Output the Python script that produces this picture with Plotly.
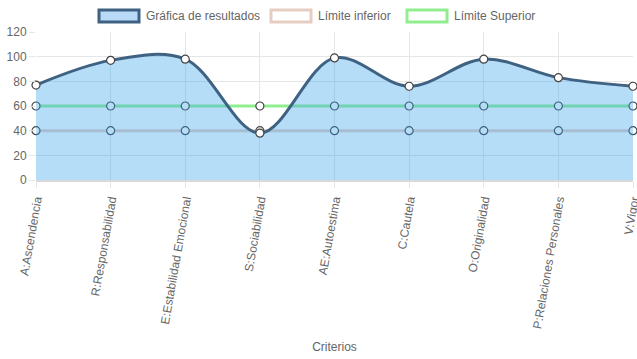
import plotly.graph_objects as go

categories = ["A:Ascendencia", "R:Responsabilidad", "E:Estabilidad Emocional",
              "S:Sociabilidad", "AE:Autoestima", "C:Cautela", "O:Originalidad",
              "P:Relaciones Personales", "V:Vigor"]
resultados = [77, 97, 98, 38, 99, 76, 98, 83, 76]
limite_inferior = [40, 40, 40, 40, 40, 40, 40, 40, 40]
limite_superior = [60, 60, 60, 60, 60, 60, 60, 60, 60]
y_ticks = [0, 20, 40, 60, 80, 100, 120]

FONT = "Liberation Sans, Arial, Helvetica, sans-serif"
marker = dict(size=8, color="white", line=dict(color="#444", width=1.2))

C_RES_LINE = "#3f6282"
C_RES_FILL = "rgba(54,162,235,0.36)"
C_INF = "rgb(230,205,196)"
C_SUP = "rgb(144,238,144)"

W, H = 637, 359
ML, MR, MT, MB = 36, 4, 32, 179
PW, PH = W - ML - MR, H - MT - MB

def px_x(px):
    return (px - ML) / PW

def px_y(py):
    return (H - MB - py) / PH

fig = go.Figure()

fig.add_trace(go.Scatter(
    x=categories, y=limite_inferior, name="Límite inferior",
    mode="lines+markers", line=dict(color=C_INF, width=3),
    marker=marker, cliponaxis=False, showlegend=False))

fig.add_trace(go.Scatter(
    x=categories, y=limite_superior, name="Límite Superior",
    mode="lines+markers", line=dict(color=C_SUP, width=3),
    marker=marker, cliponaxis=False, showlegend=False))

fig.add_trace(go.Scatter(
    x=categories, y=resultados, name="Gráfica de resultados",
    mode="lines+markers", line=dict(color=C_RES_LINE, width=3, shape="spline", smoothing=1.0),
    fill="tozeroy", fillcolor=C_RES_FILL,
    marker=marker, cliponaxis=False, showlegend=False))

# Chart.js-style legend: boxes + labels
legend_items = [("Gráfica de resultados", C_RES_LINE, "rgb(185,218,247)", 99),
                ("Límite inferior", C_INF, "white", 271),
                ("Límite Superior", C_SUP, "white", 407)]
shapes = []
annotations = []
for name, lc, fc, x0 in legend_items:
    shapes.append(dict(type="rect", xref="paper", yref="paper",
                       x0=px_x(x0), x1=px_x(x0 + 40), y0=px_y(22), y1=px_y(10),
                       line=dict(color=lc, width=3), fillcolor=fc, layer="above"))
    annotations.append(dict(text=name, xref="paper", yref="paper",
                            x=px_x(x0 + 45), y=px_y(16), xanchor="left", yanchor="middle",
                            showarrow=False, font=dict(family=FONT, size=12, color="#666")))

fig.update_layout(
    width=W, height=H,
    margin=dict(l=ML, r=MR, t=MT, b=MB, autoexpand=False),
    paper_bgcolor="white", plot_bgcolor="white",
    font=dict(family=FONT, size=12, color="#666"),
    showlegend=False,
    shapes=shapes, annotations=annotations,
    xaxis=dict(type="category", range=[0, 8], showgrid=True, gridcolor="#e6e6e6",
               tickangle=-80, ticks="outside", ticklen=6, tickcolor="#e6e6e6",
               showline=True, linecolor="#d9d9d9", linewidth=2,
               tickfont=dict(size=12, color="#666"),
               title=dict(text="Criterios", font=dict(size=12, color="#666"), standoff=14)),
    yaxis=dict(range=[0, 120], tickvals=y_ticks, showgrid=True, gridcolor="#e6e6e6",
               ticks="outside", ticklen=6, tickcolor="#e6e6e6", zeroline=False,
               showline=False, tickfont=dict(size=12, color="#666")),
)

fig.write_html("out.html", config={"displayModeBar": False},
               post_script="document.body.style.margin='0';")
